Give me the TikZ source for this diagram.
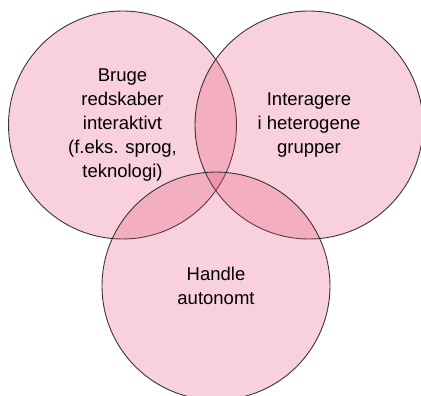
\documentclass[tikz,border=0pt]{standalone}
\usepackage{fontspec}
\setmainfont{Liberation Sans}
\usepackage{tikz}
\definecolor{vennpink}{RGB}{226,63,109}
\definecolor{vennline}{RGB}{58,52,56}

\begin{document}
\begin{tikzpicture}[x=1pt,y=-1pt,
  venn/.style={shape=circle,draw=vennline,line width=0.9pt,fill=vennpink,fill opacity=0.24,text opacity=1,minimum size=228pt,inner sep=0pt,align=center,font=\fontsize{18.5}{24}\selectfont}]
\useasboundingbox (0,0) rectangle (421,396);
\clip (0,0) rectangle (421,396);
\node[venn] (c1) at (122.5,125) {Bruge\\redskaber\\interaktivt\\(f.eks. sprog,\\teknologi)};
\node[venn] (c2) at (309,125) {Interagere\\i heterogene\\grupper};
\node[venn] (c3) at (216,286) {Handle\\autonomt};
\end{tikzpicture}
\end{document}
